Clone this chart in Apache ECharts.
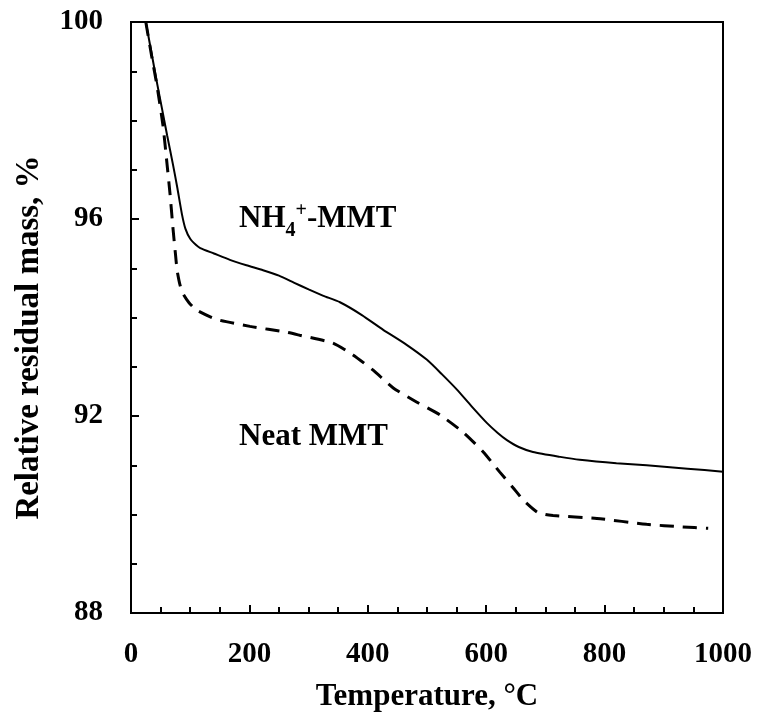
<!DOCTYPE html>
<html>
<head>
<meta charset="utf-8">
<script src="https://cdn.jsdelivr.net/npm/echarts@6/dist/echarts.min.js"></script>
<style>
  html, body { margin: 0; padding: 0; background: #fff; }
  #chart { width: 760px; height: 720px; }
</style>
</head>
<body>
<div id="chart"></div>
<script>
// NH4+-MMT (solid line): temperature, residual mass
const ammoniumTemp = [25, 35, 44, 53, 61, 71, 78, 86, 92, 100, 110, 117, 140, 167, 195, 223, 250, 275, 300, 325, 353, 390, 426, 465, 500, 525, 551, 575, 601, 620, 635, 655, 679, 725, 758, 820, 871, 940, 1000];
const ammoniumMass = [100, 99.35, 98.76, 98.2, 97.7, 97.1, 96.65, 96.1, 95.8, 95.6, 95.47, 95.41, 95.3, 95.17, 95.06, 94.96, 94.85, 94.71, 94.57, 94.44, 94.31, 94.05, 93.75, 93.45, 93.14, 92.85, 92.53, 92.2, 91.86, 91.65, 91.51, 91.37, 91.27, 91.17, 91.11, 91.04, 91.0, 90.93, 90.87];

// Neat MMT (dashed line)
const neatTemp = [25, 35, 44, 54, 61, 66, 71, 75, 78, 83, 88, 98, 111, 145, 201, 263, 285, 341, 375, 409, 443, 483, 522, 561, 595, 623, 645, 663, 686, 700, 713, 787, 871, 930, 975];
const neatMass = [100, 99.3, 98.7, 97.9, 97.1, 96.5, 95.8, 95.3, 94.95, 94.65, 94.48, 94.3, 94.15, 93.96, 93.82, 93.7, 93.64, 93.48, 93.24, 92.93, 92.57, 92.28, 92.02, 91.67, 91.27, 90.86, 90.55, 90.29, 90.05, 90.0, 89.98, 89.92, 89.8, 89.75, 89.72];

const xTicks = [0, 200, 400, 600, 800, 1000];
const yTicks = [88, 92, 96, 100];

function pairs(xs, ys) {
    return xs.map(function(x, i) { return [x, ys[i]]; });
}

const font = '"Liberation Serif", "Times New Roman", serif';
const chart = echarts.init(document.getElementById('chart'));

const option = {
    backgroundColor: '#fff',
    animation: false,
    grid: {
        left: 131, right: 37, top: 22, bottom: 107,
        show: true, borderColor: '#000', borderWidth: 2
    },
    xAxis: {
        type: 'value',
        min: xTicks[0], max: xTicks[xTicks.length - 1], interval: 200,
        name: 'Temperature, °C',
        nameLocation: 'middle', nameGap: 68,
        nameTextStyle: { fontFamily: font, fontWeight: 'bold', fontSize: 31, color: '#000' },
        axisLine: { lineStyle: { color: '#000', width: 2 } },
        axisTick: { inside: true, length: 8, lineStyle: { color: '#000', width: 2 } },
        minorTick: { show: true, splitNumber: 4, length: 6, lineStyle: { color: '#000', width: 2 } },
        splitLine: { show: false },
        axisLabel: {
            margin: 27, fontFamily: font, fontWeight: 'bold', fontSize: 29, color: '#000',
            formatter: function(v) { return String(v); }
        }
    },
    yAxis: {
        type: 'value',
        min: yTicks[0], max: yTicks[yTicks.length - 1], interval: 4,
        name: 'Relative residual mass, %',
        nameLocation: 'middle', nameGap: 85,
        nameTextStyle: { fontFamily: font, fontWeight: 'bold', fontSize: 33, color: '#000', padding: [0, 40, 0, 0] },
        axisLine: { show: true, lineStyle: { color: '#000', width: 2 } },
        axisTick: { show: true, inside: true, length: 8, lineStyle: { color: '#000', width: 2 } },
        minorTick: { show: true, splitNumber: 4, length: 6, lineStyle: { color: '#000', width: 2 } },
        splitLine: { show: false },
        axisLabel: { margin: 28, fontFamily: font, fontWeight: 'bold', fontSize: 29, color: '#000' }
    },
    series: [
        {
            name: 'NH4+-MMT',
            type: 'line',
            data: pairs(ammoniumTemp, ammoniumMass),
            smooth: 0.2,
            showSymbol: false,
            lineStyle: { color: '#000', width: 2 }
        },
        {
            name: 'Neat MMT',
            type: 'line',
            data: pairs(neatTemp, neatMass),
            smooth: 0.2,
            showSymbol: false,
            lineStyle: { color: '#000', width: 3, type: [14, 9] }
        }
    ],
    graphic: [
        {
            type: 'text', left: 239, top: 201,
            style: {
                text: '{n|NH}{s|4}{p|+}{n|-MMT}',
                rich: {
                    n: { fontFamily: font, fontWeight: 'bold', fontSize: 31, fill: '#000', verticalAlign: 'bottom' },
                    s: { fontFamily: font, fontWeight: 'bold', fontSize: 20, fill: '#000', padding: [0, 0, -7, 0], verticalAlign: 'bottom' },
                    p: { fontFamily: font, fontWeight: 'bold', fontSize: 20, fill: '#000', padding: [0, 0, 13, 0], verticalAlign: 'bottom' }
                }
            }
        },
        {
            type: 'text', left: 239, top: 421,
            style: { text: 'Neat MMT', fontFamily: font, fontWeight: 'bold', fontSize: 31, fill: '#000' }
        }
    ]
};

chart.setOption(option);
</script>
</body>
</html>
